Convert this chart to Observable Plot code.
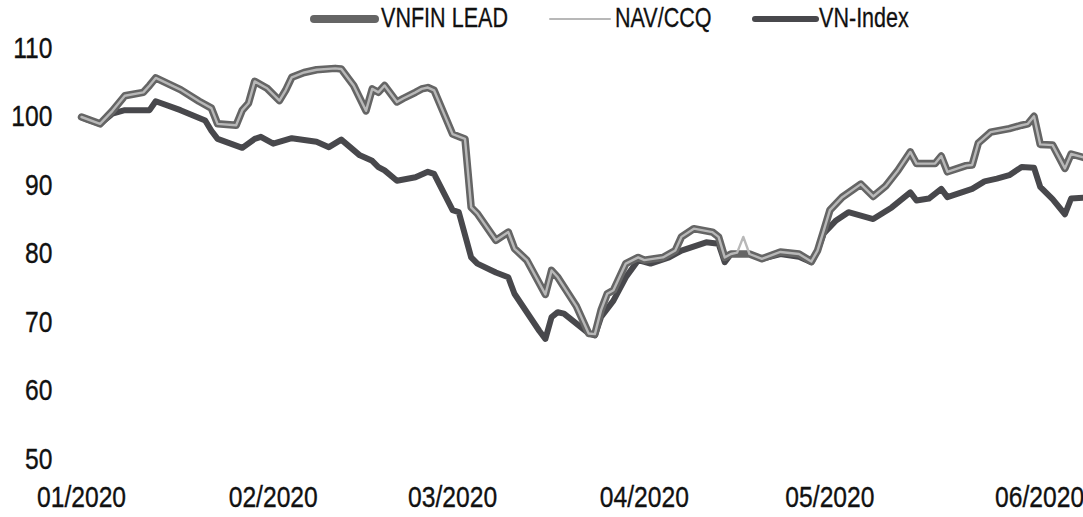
<!DOCTYPE html>
<html>
<head>
<meta charset="utf-8">
<script src="https://cdn.jsdelivr.net/npm/d3@7"></script>
<script src="https://cdn.jsdelivr.net/npm/@observablehq/plot@0.6"></script>
<style>
  html, body { margin: 0; padding: 0; background: #fff; }
  body { width: 1083px; height: 517px; overflow: hidden; font-family: "Liberation Sans", Arial, sans-serif; color: #111; }
  #legend { position: relative; height: 36px; font-size: 28px; }
  #legend .sw { position: absolute; border-radius: 4px; }
  #legend .tx { position: absolute; top: 2px; line-height: 32px; white-space: nowrap; transform: scaleX(0.77); transform-origin: left center; -webkit-text-stroke: 0.3px #111; }
  svg text { stroke: #111; stroke-width: 0.35px; }
</style>
</head>
<body>
<div id="legend"></div>
<div id="chart"></div>
<script>
// ---- data ----
const seriesNames = ["VNFIN LEAD", "NAV/CCQ", "VN-Index"];

const vnfinDates = ["2020-01-01","2020-01-04","2020-01-06","2020-01-08","2020-01-11","2020-01-12","2020-01-13","2020-01-17","2020-01-20","2020-01-22","2020-01-23","2020-01-26","2020-01-27","2020-01-28","2020-01-29","2020-01-31",
  "2020-02-02","2020-02-03","2020-02-04","2020-02-06","2020-02-08","2020-02-11","2020-02-12","2020-02-14","2020-02-16","2020-02-17","2020-02-18","2020-02-19","2020-02-21","2020-02-22","2020-02-24","2020-02-25","2020-02-26","2020-02-27",
  "2020-03-01","2020-03-03","2020-03-04","2020-03-05","2020-03-08","2020-03-10","2020-03-11","2020-03-13","2020-03-16","2020-03-17","2020-03-18","2020-03-21","2020-03-23","2020-03-24","2020-03-25","2020-03-26","2020-03-27","2020-03-29","2020-03-31",
  "2020-04-01","2020-04-04","2020-04-06","2020-04-07","2020-04-09","2020-04-12","2020-04-13","2020-04-14","2020-04-15","2020-04-18","2020-04-20","2020-04-23","2020-04-26","2020-04-28","2020-04-29","2020-04-30",
  "2020-05-01","2020-05-03","2020-05-06","2020-05-08","2020-05-10","2020-05-12","2020-05-14","2020-05-15","2020-05-18","2020-05-19","2020-05-20","2020-05-23","2020-05-24","2020-05-25","2020-05-27","2020-05-30",
  "2020-06-01","2020-06-02","2020-06-03","2020-06-04","2020-06-06","2020-06-08","2020-06-09","2020-06-11"];
const vnfinValues = [100.0,99.0,100.9,103.1,103.6,104.6,105.7,104.0,102.3,101.3,99.0,98.8,101.0,102.0,105.2,104.2,
  102.4,103.9,105.8,106.5,106.9,107.1,107.0,104.6,100.9,104.1,103.6,104.6,102.2,102.7,103.6,104.1,104.3,103.9,
  97.5,96.8,86.8,85.9,82.0,83.2,80.8,79.1,74.1,77.6,76.6,72.4,68.4,68.3,71.8,74.2,74.7,78.6,79.5,
  79.1,79.5,80.5,82.5,83.7,83.2,82.5,79.5,80.0,80.0,79.3,80.3,80.0,78.9,80.5,83.4,
  86.4,88.3,90.2,88.4,89.9,92.2,94.9,93.2,93.2,94.3,92.0,92.9,93.0,96.2,97.8,98.3,
  98.8,99.0,100.1,96.0,95.9,92.5,94.6,94.1];

const navDates = ["2020-01-01","2020-01-04","2020-01-06","2020-01-08","2020-01-11","2020-01-12","2020-01-13","2020-01-17","2020-01-20","2020-01-22","2020-01-23","2020-01-26","2020-01-27","2020-01-28","2020-01-29","2020-01-31",
  "2020-02-02","2020-02-03","2020-02-04","2020-02-06","2020-02-08","2020-02-11","2020-02-12","2020-02-14","2020-02-16","2020-02-17","2020-02-18","2020-02-19","2020-02-21","2020-02-22","2020-02-24","2020-02-25","2020-02-26","2020-02-27",
  "2020-03-01","2020-03-03","2020-03-04","2020-03-05","2020-03-08","2020-03-10","2020-03-11","2020-03-13","2020-03-16","2020-03-17","2020-03-18","2020-03-21","2020-03-23","2020-03-24","2020-03-25","2020-03-26","2020-03-27","2020-03-29","2020-03-31",
  "2020-04-01","2020-04-04","2020-04-06","2020-04-07","2020-04-09","2020-04-12","2020-04-13","2020-04-14","2020-04-15","2020-04-16","2020-04-17","2020-04-18","2020-04-20","2020-04-23","2020-04-26","2020-04-28","2020-04-29","2020-04-30",
  "2020-05-01","2020-05-03","2020-05-06","2020-05-08","2020-05-10","2020-05-12","2020-05-14","2020-05-15","2020-05-18","2020-05-19","2020-05-20","2020-05-23","2020-05-24","2020-05-25","2020-05-27","2020-05-30",
  "2020-06-01","2020-06-02","2020-06-03","2020-06-04","2020-06-06","2020-06-08","2020-06-09","2020-06-11"];
const navValues = [100.0,99.0,100.9,103.1,103.6,104.6,105.7,104.0,102.3,101.3,99.0,98.8,101.0,102.0,105.2,104.2,
  102.4,103.9,105.8,106.5,106.9,107.1,107.0,104.6,100.9,104.1,103.6,104.6,102.2,102.7,103.6,104.1,104.3,103.9,
  97.5,96.8,86.8,85.9,82.0,83.2,80.8,79.1,74.1,77.6,76.6,72.4,68.4,68.3,71.8,74.2,74.7,78.6,79.5,
  79.1,79.5,80.5,82.5,83.7,83.2,82.5,79.5,80.0,80.2,82.5,80.0,79.3,80.3,80.0,78.9,80.5,83.4,
  86.4,88.3,90.2,88.4,89.9,92.2,94.9,93.2,93.2,94.3,92.0,92.9,93.0,96.2,97.8,98.3,
  98.8,99.0,100.1,96.0,95.9,92.5,94.6,94.1];

const vnIndexDates = ["2020-01-01","2020-01-02","2020-01-04","2020-01-06","2020-01-08","2020-01-12","2020-01-13","2020-01-17","2020-01-21","2020-01-22","2020-01-23","2020-01-27","2020-01-29","2020-01-30",
  "2020-02-01","2020-02-04","2020-02-08","2020-02-10","2020-02-12","2020-02-15","2020-02-17","2020-02-18","2020-02-19","2020-02-21","2020-02-24","2020-02-26","2020-02-27",
  "2020-03-01","2020-03-02","2020-03-04","2020-03-05","2020-03-08","2020-03-10","2020-03-11","2020-03-15","2020-03-16","2020-03-17","2020-03-18","2020-03-19","2020-03-23","2020-03-24","2020-03-25","2020-03-27","2020-03-29","2020-03-31",
  "2020-04-02","2020-04-05","2020-04-07","2020-04-11","2020-04-13","2020-04-14","2020-04-15","2020-04-18","2020-04-20","2020-04-23","2020-04-26","2020-04-28","2020-04-29","2020-04-30",
  "2020-05-02","2020-05-04","2020-05-08","2020-05-11","2020-05-14","2020-05-15","2020-05-17","2020-05-19","2020-05-20","2020-05-24","2020-05-26","2020-05-28","2020-05-30",
  "2020-06-01","2020-06-03","2020-06-04","2020-06-06","2020-06-08","2020-06-09","2020-06-11"];
const vnIndexValues = [100.0,99.6,99.0,100.5,101.0,101.0,102.3,101.0,99.5,98.0,96.8,95.5,96.8,97.1,
  96.1,96.9,96.4,95.6,96.7,94.4,93.6,92.7,92.2,90.7,91.2,92.0,91.7,
  86.4,86.1,79.5,78.6,77.3,76.6,74.2,68.8,67.6,70.8,71.5,71.3,68.4,68.1,70.8,73.2,76.6,79.1,
  78.6,79.5,80.5,81.7,81.5,78.8,80.0,80.0,79.3,80.0,79.6,78.8,80.5,83.0,
  84.9,86.1,85.1,86.8,89.0,87.8,88.1,89.5,88.3,89.5,90.6,91.0,91.5,
  92.7,92.6,89.8,88.0,85.8,88.1,88.2];

const xDomain = ["2020-01-01", "2020-06-11"];
const xTicks = ["2020-01-01","2020-02-01","2020-03-01","2020-04-01","2020-05-01","2020-06-01"];
const yTicks = [50, 60, 70, 80, 90, 100, 110];

// ---- styles ----
const colors = {"VNFIN LEAD": "#656565", "NAV/CCQ": "#b8b8b8", "VN-Index": "#48484c"};
const widths = {"VNFIN LEAD": 7.5, "NAV/CCQ": 2.4, "VN-Index": 6};
const legendPos = {"VNFIN LEAD": [310, 69, 381], "NAV/CCQ": [549, 62, 615], "VN-Index": [752, 67, 819]};
const lastTickShift = 18; // the reference prints its last month label right-shifted, close to the edge

const parse = d3.utcParse("%Y-%m-%d");
const toRows = (name, ds, vs) => ds.map((d, i) => ({series: name, date: parse(d), value: vs[i]}));
const vnIndex = toRows("VN-Index", vnIndexDates, vnIndexValues);
const vnfin = toRows("VNFIN LEAD", vnfinDates, vnfinValues);
const nav = toRows("NAV/CCQ", navDates, navValues);

// legend
const legend = document.getElementById("legend");
for (const name of seriesNames) {
  const [sx, sw, tx] = legendPos[name];
  const s = document.createElement("span");
  s.className = "sw";
  s.style.left = sx + "px";
  s.style.width = sw + "px";
  s.style.height = widths[name] + "px";
  s.style.top = (19 - widths[name] / 2) + "px";
  s.style.background = colors[name];
  const t = document.createElement("span");
  t.className = "tx";
  t.textContent = name;
  t.style.left = tx + "px";
  legend.append(s, t);
}

const fmt = d3.utcFormat("%m/%Y");
const chart = Plot.plot({
  width: 1083,
  height: 481,
  marginLeft: 81,
  marginRight: 0,
  marginTop: 12,
  marginBottom: 58,
  style: {fontSize: "29px", fontFamily: "'Liberation Sans', Arial, sans-serif", color: "#111", background: "#fff", overflow: "visible"},
  x: {type: "utc", domain: xDomain.map(parse), ticks: xTicks.map(parse), tickFormat: fmt, tickSize: 0, tickPadding: 27, label: null},
  y: {domain: [50, 110], ticks: yTicks, tickSize: 0, tickPadding: 29, label: null},
  marks: [
    Plot.lineY(vnIndex, {x: "date", y: "value", stroke: colors["VN-Index"], strokeWidth: widths["VN-Index"], strokeLinejoin: "round", strokeLinecap: "round"}),
    Plot.lineY(vnfin, {x: "date", y: "value", stroke: colors["VNFIN LEAD"], strokeWidth: widths["VNFIN LEAD"], strokeLinejoin: "round", strokeLinecap: "round"}),
    Plot.lineY(nav, {x: "date", y: "value", stroke: colors["NAV/CCQ"], strokeWidth: widths["NAV/CCQ"], strokeLinejoin: "round", strokeLinecap: "round"})
  ]
});

// condense the axis text horizontally (narrow typeface look), keeping each anchor point in place
const lastLabel = fmt(parse(xTicks[xTicks.length - 1]));
chart.querySelectorAll("text").forEach(t => {
  const tr = t.getAttribute("transform") || "";
  const shift = t.textContent === lastLabel ? ` translate(${lastTickShift},0)` : "";
  t.setAttribute("transform", `${tr}${shift} scale(0.85,1)`);
});
document.getElementById("chart").append(chart);
</script>
</body>
</html>
